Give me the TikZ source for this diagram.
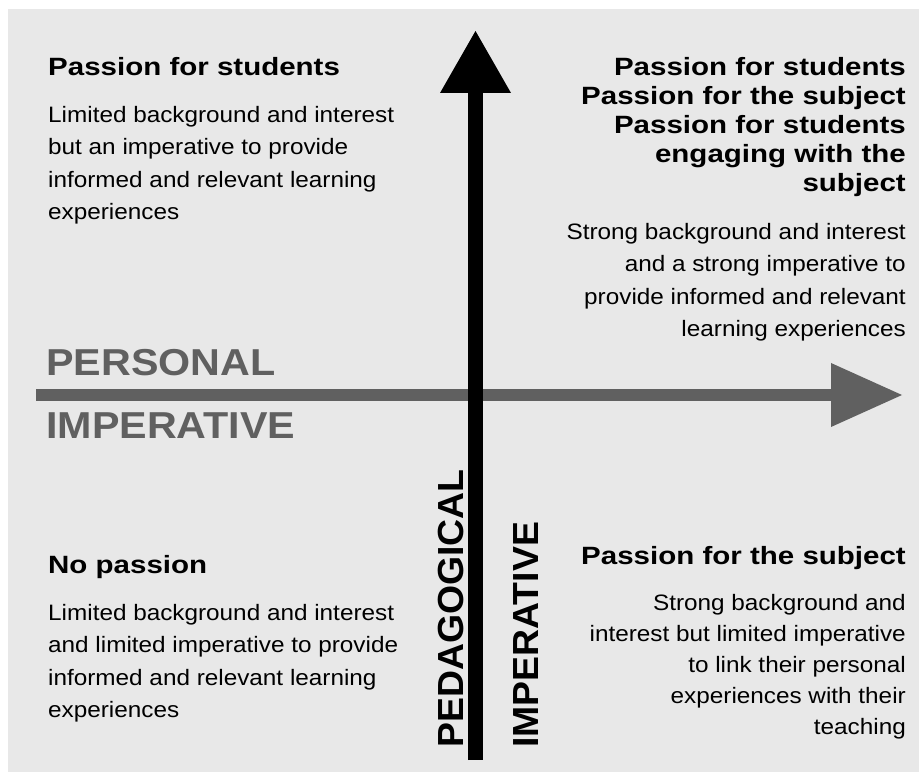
\documentclass[tikz,border=0pt]{standalone}
\usepackage{fontspec}
\setmainfont{Liberation Sans}
\newfontfamily\bodyfont[FakeStretch=1.09]{Liberation Sans}
\newfontfamily\headfont[FakeStretch=1.18]{Liberation Sans}
\newfontfamily\axisfont[FakeStretch=1.1]{Liberation Sans}
\newfontfamily\vaxisfont[FakeStretch=1.03]{Liberation Sans}
\usetikzlibrary{arrows.meta}

\definecolor{panelgray}{RGB}{232,232,232}
\definecolor{axisgray}{RGB}{96,96,96}

\tikzset{
  heading/.style={inner sep=0pt, font=\headfont\bfseries\fontsize{25}{29}\selectfont},
  body/.style={inner sep=0pt, font=\bodyfont\fontsize{22.3}{32.5}\selectfont},
  axislabel/.style={inner sep=0pt, text=axisgray, font=\axisfont\bfseries\fontsize{37.5}{40}\selectfont},
  vlabel/.style={inner sep=0pt, rotate=90, anchor=base west, font=\vaxisfont\bfseries\fontsize{36.3}{40}\selectfont},
}

\begin{document}
\begin{tikzpicture}[x=1pt,y=-1pt]
    \useasboundingbox (0,0) rectangle (919,775);
    % Panel
    \fill[panelgray] (8,9) rectangle (919,772);

    % Personal imperative axis
    \coordinate (pstart) at (36,395);
    \coordinate (pend) at (902,395);
    \draw[axisgray, line width=12pt, -{Triangle[length=71pt,width=64pt,line width=0pt]}] (pstart) -- (pend);

    % Pedagogical imperative axis
    \coordinate (gstart) at (475.5,760);
    \coordinate (gend) at (475.5,31);
    \draw[black, line width=15pt, -{Triangle[length=62pt,width=71pt,line width=0pt]}] (gstart) -- (gend);

    % Axis labels
    \node[axislabel, anchor=base west] (perslabel) at (46,376) {PERSONAL};
    \node[axislabel, anchor=base west] (implabel) at (46,439) {IMPERATIVE};
    \node[vlabel] (pedlabel) at (463,748) {PEDAGOGICAL};
    \node[vlabel] (pedimplabel) at (538,748) {IMPERATIVE};

    % Top left
    \node[heading, anchor=base west] (tlhead) at (48,76) {Passion for students};
    \node[body, anchor=north west, align=left] (tlbody) at (48,105.7)
      {Limited background and interest\\but an imperative to provide\\informed and relevant learning\\experiences};

    % Top right
    \node[heading, anchor=north east, align=right] (trhead) at (906,57)
      {Passion for students\\Passion for the subject\\Passion for students\\engaging with the\\subject};
    \node[body, anchor=north east, align=right] (trbody) at (906,223)
      {Strong background and interest\\and a strong imperative to\\provide informed and relevant\\learning experiences};

    % Bottom left
    \node[heading, anchor=base west] (blhead) at (48,573) {No passion};
    \node[body, anchor=north west, align=left] (blbody) at (48,604)
      {Limited background and interest\\and limited imperative to provide\\informed and relevant learning\\experiences};

    % Bottom right
    \node[heading, anchor=base east] (brhead) at (906,564) {Passion for the subject};
    \node[body, anchor=north east, align=right, font=\bodyfont\fontsize{22.3}{31}\selectfont] (brbody) at (906,594)
      {Strong background and\\interest but limited imperative\\to link their personal\\experiences with their\\teaching};
\end{tikzpicture}
\end{document}
